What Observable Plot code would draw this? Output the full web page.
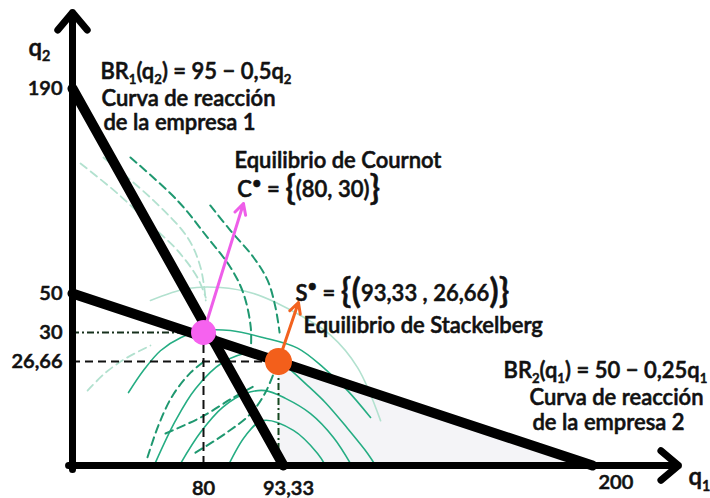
<!DOCTYPE html>
<html lang="es">
<head>
<meta charset="utf-8">
<script src="https://cdn.jsdelivr.net/npm/d3@7"></script>
<script src="https://cdn.jsdelivr.net/npm/@observablehq/plot@0.6"></script>
<style>
  body { margin: 0; background: #fff; }
  svg { display: block; }
</style>
</head>
<body>
<div id="chart"></div>
<script>
// Duopolio: curvas de reacción, equilibrio de Cournot y de Stackelberg.
// Markup inside labels: _x subscript, ^x superscript, ~x enlarged glyph.

// Tick values and their printed labels
const xTicks = [80, 93.33, 200];
const xTickLabels = ["80", "93,33", "200"];
const yTicks = [190, 50, 30, 26.66];
const yTickLabels = ["190", "50", "30", "26,66"];

// Reaction functions: BR1(q2) = 95 − 0,5 q2 ; BR2(q1) = 50 − 0,25 q1
const br1Q2 = [190, 0];
const br2Q1 = [0, 200];
const br1 = br1Q2.map(q2 => ({q1: 95 - 0.5 * q2, q2}));
const br2 = br2Q1.map(q1 => ({q1, q2: 50 - 0.25 * q1}));

// Equilibria
const cournot = [{q1: 80, q2: 30}];
const stackelberg = [{q1: 93.33, q2: 26.66}];

// Arrow tips of the two callouts
const cournotTip = [{q1: 87.1, q2: 111.5}];
const stackTip = [{q1: 100.1, q2: 45.4}];

// Isoprofit curves of firm 2 (dashed), [q1, q2]
const iso2 = [
  [[35.4,142.9],[64.1,113.5],[80.7,88.3],[84.8,67.8],[87.1,50],[88.4,32.6],[88.4,27.7]],
  [[81.2,110.1],[84.8,93],[88.9,74.6],[91.4,58.9],[92.8,42.8],[93.7,30]],
  [[45.8,2.1],[52.5,10.3],[61.1,17.9],[72.1,23.8],[80.4,26.8]],
  [[56.8,8.2],[78.2,12.3],[85.3,17.4],[89.2,20.5]],
  [[75.1,3.3],[83.9,8.2],[88.4,13.3],[91.0,18.7],[92.8,24.9]]
];
const iso2Faint = [
  [[4.9,138.8],[27.5,118.3],[49.5,95.1],[64.1,79.4],[76.3,60.9],[80.4,47.9]],
  [[18.9,142.9],[49.5,113.5],[70.2,88.3],[78.2,67.8],[80.4,46.4]],
  [[9.2,19.2],[20.2,23.8],[32.4,27],[47.6,28.5]]
];

// Isoprofit curves of firm 1 (solid), [q1, q2]
const iso1 = [
  [[34.2,18.7],[43.4,24.4],[53.7,27.9],[66,29.4],[80,31],[84.8,31],[90.7,29.4],[99.8,28.2],[108.6,25.1],[116.8,19.2],[124.6,12.3]],
  [[50.7,0.8],[62.9,11.5],[75.1,19.7],[83.4,26.4],[88.4,27.7],[91.9,27.4],[95.7,25.6],[102.5,21],[109.3,16.1],[116.8,9.5],[123.6,3.1],[126.3,0]],
  [[66,0.5],[78.2,8.5],[83.4,14.9],[87.5,18.5],[91,19.2],[95.7,17.2],[104.2,13.3],[112,7.2],[117.8,0.5]],
  [[84.4,0],[87.5,7.7],[90.5,11.5],[98.4,9],[106.6,3.1],[109.3,0]]
];
const iso1Faint = [
  [[47.6,46.4],[70.2,53.4],[83,54.1],[88.9,50],[93.2,44.9],[100.8,38.7],[111,29.7],[120.2,25.1],[128,11.5]]
];

// Annotation texts and their anchor points
const notes = [
  {q1: 17.1, q2: 201.5, text: "BR_1(q_2) = 95 − 0,5q_2"},
  {q1: 17.7, q2: 183.2, text: "Curva de reacción"},
  {q1: 18.9, q2: 166.8, text: "de la empresa 1"},
  {q1: 85.5, q2: 140.8, text: "Equilibrio de Cournot"},
  {q1: 86.0, q2: 120.4, text: "C^• = ~{(80, 30)~}"},
  {q1: 99.1, q2: 50.0, text: "S^• = ~{~(93,33 , 26,66~)~}"},
  {q1: 101.8, q2: 33.6, text: "Equilibrio de Stackelberg"},
  {q1: 169.8, q2: 24.2, text: "BR_2(q_1) = 50 − 0,25q_1"},
  {q1: 178.6, q2: 17.2, text: "Curva de reacción"},
  {q1: 179.6, q2: 10.8, text: "de la empresa 2"}
];
const axisNames = [
  {q1: -26.9, q2: 217.3, text: "q_2"},
  {q1: 232.6, q2: -3.1, text: "q_1"}
];

// Axis extents
const xAxisLine = [{x1: -2.4, y1: 0, x2: 229.2, y2: 0}];
const yAxisLine = [{x1: 0, y1: -1, x2: 0, y2: 241.9}];

// The diagram is not drawn to scale: each axis is stretched piecewise between its marked values
const xWarp = d3.scaleLinear().domain([0, 80, 93.33, 200]).range([0, 131, 206, 520]);
const yWarp = d3.scaleLinear().domain([0, 26.66, 30, 50, 190]).range([0, 104, 133, 172, 377]);

const DASH_GREEN = "#1f9870";
const SOLID_GREEN = "#25ad83";
const FAINT_GREEN = "#b2e1cf";
const INK = "#111";
const textStyle = {fontWeight: 600, fill: INK, stroke: INK, strokeWidth: 0.55};

const curveMarks = (set, opts) => set.map(pts =>
  Plot.line(pts, {x: d => d[0], y: d => d[1], curve: "catmull-rom", ...opts}));

const chart = Plot.plot({
  width: 710,
  height: 498,
  margin: 0,
  style: {fontFamily: "Lato, 'Open Sans', sans-serif", background: "#fff", color: INK},
  x: {transform: xWarp, domain: [0, 520], range: [72, 592], axis: null},
  y: {transform: yWarp, domain: [0, 377], range: [465, 88], axis: null},
  marks: [
    // faint shading under BR2
    Plot.areaY([stackelberg[0], br2[1]], {x: "q1", y1: 0, y2: "q2", fill: "#f4f4f7"}),
    // isoprofit curves
    ...curveMarks(iso1Faint, {stroke: FAINT_GREEN, strokeWidth: 1.6}),
    ...curveMarks(iso2Faint, {stroke: FAINT_GREEN, strokeWidth: 1.8, strokeDasharray: "8,5"}),
    ...curveMarks(iso1, {stroke: SOLID_GREEN, strokeWidth: 1.6}),
    ...curveMarks(iso2, {stroke: DASH_GREEN, strokeWidth: 2, strokeDasharray: "8,5"}),
    // reference lines to the axes
    Plot.ruleY(cournot, {y: "q2", x1: 0, x2: "q1", stroke: "#16301c", strokeWidth: 2, strokeDasharray: "7,3,2,3"}),
    Plot.ruleX(cournot, {x: "q1", y1: 0, y2: "q2", stroke: INK, strokeWidth: 2, strokeDasharray: "9,5"}),
    Plot.ruleY(stackelberg, {y: "q2", x1: 0, x2: "q1", stroke: INK, strokeWidth: 2, strokeDasharray: "8,5"}),
    Plot.ruleX(stackelberg, {x: "q1", y1: 0, y2: "q2", stroke: "#15481f", strokeWidth: 2, strokeDasharray: "7,3,2,3"}),
    // reaction curves
    Plot.line(br1, {x: "q1", y: "q2", stroke: "#000", strokeWidth: 10}),
    Plot.line(br2, {x: "q1", y: "q2", stroke: "#000", strokeWidth: 10}),
    // axes
    Plot.arrow(xAxisLine, {x1: "x1", y1: "y1", x2: "x2", y2: "y2", stroke: "#000", strokeWidth: 7, headLength: 4.9, headAngle: 80}),
    Plot.arrow(yAxisLine, {x1: "x1", y1: "y1", x2: "x2", y2: "y2", stroke: "#000", strokeWidth: 7, headLength: 4.9, headAngle: 80}),
    // callout arrows
    Plot.arrow(cournot, {x1: "q1", y1: "q2", x2: () => cournotTip[0].q1, y2: () => cournotTip[0].q2, stroke: "#ee5ee9", strokeWidth: 3, headLength: 6, headAngle: 55}),
    Plot.arrow(stackelberg, {x1: "q1", y1: "q2", x2: () => stackTip[0].q1, y2: () => stackTip[0].q2, stroke: "#f2621f", strokeWidth: 3, headLength: 6, headAngle: 55}),
    // equilibria
    Plot.dot(cournot, {x: "q1", y: "q2", r: 12.5, fill: "#f662ef"}),
    Plot.dot(stackelberg, {x: "q1", y: "q2", r: 13.5, fill: "#f35f1b"}),
    // tick labels
    Plot.text(yTicks, {x: 0, y: d => d, text: (d, i) => yTickLabels[i], textAnchor: "end", dx: -10, fontSize: 20, ...textStyle}),
    Plot.text([xTicks[0]], {x: d => d, y: 0, text: () => xTickLabels[0], dy: 23, fontSize: 20, ...textStyle}),
    Plot.text([xTicks[1]], {x: d => d, y: 0, text: () => xTickLabels[1], dx: 10, dy: 23, fontSize: 20, ...textStyle}),
    Plot.text([xTicks[2]], {x: d => d, y: 0, text: () => xTickLabels[2], textAnchor: "start", dx: 6, dy: 17, fontSize: 20, ...textStyle}),
    // axis names and annotations
    Plot.text(axisNames, {x: "q1", y: "q2", text: "text", textAnchor: "start", fontSize: 24, ...textStyle}),
    Plot.text(notes, {x: "q1", y: "q2", text: "text", textAnchor: "start", fontSize: 22, ...textStyle})
  ]
});

document.getElementById("chart").append(chart);

// Turn the inline markup into sub/superscripts and enlarged glyphs
d3.select(chart).selectAll("text").each(function () {
  const s = this.textContent;
  if (!/[_^~]/.test(s)) return;
  const base = parseFloat(getComputedStyle(this).fontSize) || 22;
  const runs = [];
  for (let i = 0; i < s.length; i++) {
    const c = s[i];
    const kind = (c === "_" || c === "^" || c === "~") && i + 1 < s.length ? c : "";
    const ch = kind ? s[++i] : c;
    const last = runs[runs.length - 1];
    if (last && last.kind === kind && kind === "") last.t += ch;
    else runs.push({kind, t: ch});
  }
  const spec = {
    "": {size: 1, off: 0},
    "_": {size: 0.6, off: 0.22},
    "^": {size: 0.75, off: -0.38},
    "~": {size: 1.6, off: 0.13}
  };
  this.textContent = "";
  let cur = 0;
  for (const r of runs) {
    const sp = spec[r.kind];
    const t = document.createElementNS("http://www.w3.org/2000/svg", "tspan");
    t.setAttribute("font-size", (base * sp.size).toFixed(2));
    const target = sp.off * base;
    t.setAttribute("dy", (target - cur).toFixed(2));
    cur = target;
    t.textContent = r.t;
    this.appendChild(t);
  }
});
</script>
</body>
</html>
